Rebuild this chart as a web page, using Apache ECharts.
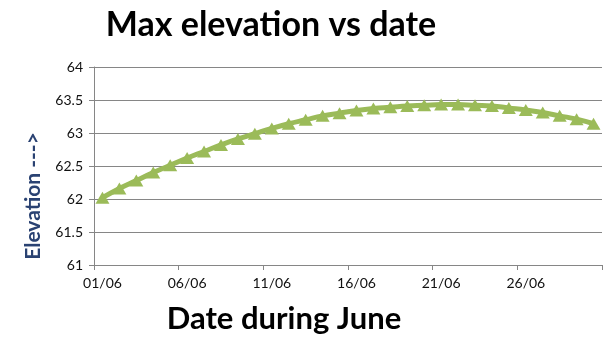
<!DOCTYPE html>
<html>
<head>
<meta charset="utf-8">
<script src="https://cdn.jsdelivr.net/npm/echarts@6/dist/echarts.min.js"></script>
<style>
html,body{margin:0;padding:0;background:#fff;}
#chart{width:614px;height:353px;}
</style>
</head>
<body>
<div id="chart"></div>
<script>
var categories = ["01/06","02/06","03/06","04/06","05/06","06/06","07/06","08/06","09/06","10/06",
  "11/06","12/06","13/06","14/06","15/06","16/06","17/06","18/06","19/06","20/06",
  "21/06","22/06","23/06","24/06","25/06","26/06","27/06","28/06","29/06","30/06"];
var elevation = [62.02,62.16,62.28,62.40,62.51,62.62,62.72,62.82,62.91,62.99,
  63.07,63.14,63.20,63.26,63.30,63.34,63.37,63.39,63.41,63.42,
  63.43,63.43,63.42,63.41,63.38,63.35,63.31,63.26,63.21,63.14];
var yTicks = {min: 61, max: 64, interval: 0.5};
var titleText = "Max elevation vs date";
var xName = "Date during June";
var yName = "Elevation --->";

var chart = echarts.init(document.getElementById('chart'), null, {renderer: 'canvas'});
chart.setOption({
  backgroundColor: '#ffffff',
  animation: false,
  title: [
    {text: titleText, left: 266, top: 3, textAlign: 'center',
     textStyle: {fontFamily: 'Lato', fontWeight: 'bold', fontSize: 34, color: '#000'}},
    {text: xName, left: 279, top: 298, textAlign: 'center',
     textStyle: {fontFamily: 'Lato', fontWeight: 'bold', fontSize: 31, color: '#000'}}
  ],
  graphic: [
    {type: 'text', x: 33, y: 196, rotation: Math.PI / 2,
     style: {text: yName, fontFamily: 'Lato', fontWeight: 'bold', fontSize: 21,
             fill: '#2a4272', align: 'center', verticalAlign: 'middle'}}
  ],
  grid: {left: 94, right: 12, top: 67, bottom: 88, containLabel: false},
  xAxis: {
    type: 'category',
    data: categories,
    boundaryGap: true,
    axisLine: {lineStyle: {color: '#868686', width: 1}},
    axisTick: {show: true, interval: 4, length: 5, lineStyle: {color: '#868686'}},
    axisLabel: {interval: 4, fontFamily: 'Lato', fontSize: 14, color: '#111', margin: 11},
    splitLine: {show: false}
  },
  yAxis: {
    type: 'value',
    min: yTicks.min, max: yTicks.max, interval: yTicks.interval,
    axisLine: {show: true, lineStyle: {color: '#868686', width: 1}},
    axisTick: {show: true, length: 5, lineStyle: {color: '#868686'}},
    axisLabel: {fontFamily: 'Lato', fontSize: 14, color: '#111', margin: 11},
    splitLine: {show: true, lineStyle: {color: '#868686', width: 1}}
  },
  series: [{
    type: 'line',
    data: elevation,
    smooth: true,
    symbol: 'triangle',
    symbolSize: [14, 12],
    showAllSymbol: true,
    lineStyle: {color: '#9bbb59', width: 5},
    itemStyle: {color: '#9bbb59', borderWidth: 0}
  }]
});
</script>
</body>
</html>
